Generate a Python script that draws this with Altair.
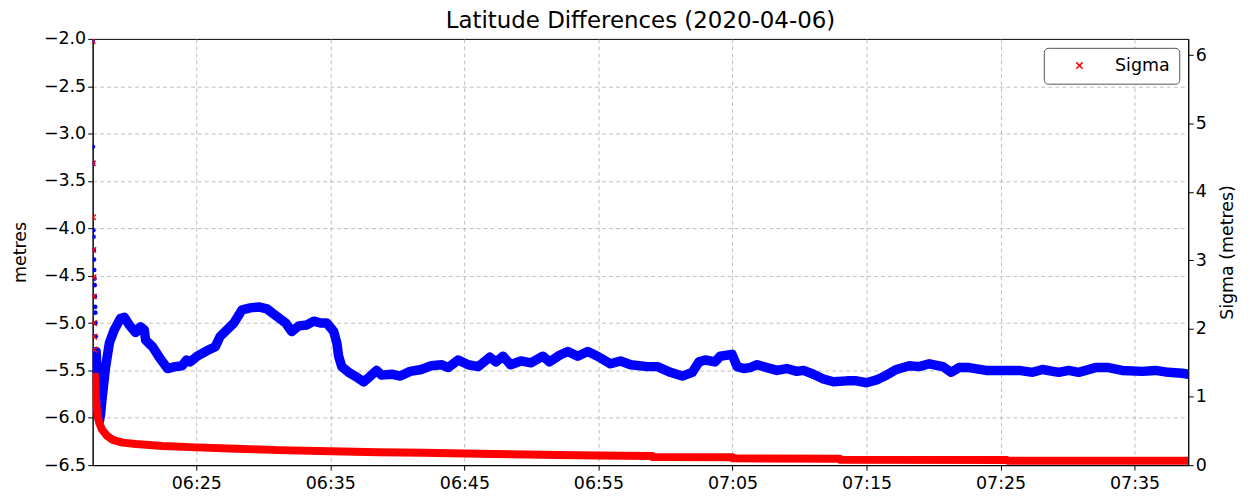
import altair as alt
import pandas as pd

DAY = "2020-04-06T"

# --- Latitude differences (metres), left axis ---
lat_start_times = ["06:17:16", "06:17:17", "06:17:18", "06:17:19", "06:17:20", "06:17:21",
                   "06:17:22", "06:17:23", "06:17:24", "06:17:25", "06:17:26", "06:17:27",
                   "06:17:28", "06:17:29", "06:17:30", "06:17:31"]
lat_start_values = [-2.02, -3.14, -3.31, -4.02, -4.09, -4.23, -4.33, -4.44, -4.53, -4.60,
                    -4.72, -4.83, -4.89, -5.00, -5.14, -5.28]

lat_times = ["06:17:32", "06:17:38", "06:17:43", "06:17:47", "06:17:52", "06:17:58", "06:18:05",
             "06:18:14", "06:18:31", "06:18:53", "06:19:21", "06:19:38", "06:20:00", "06:20:28",
             "06:20:50", "06:21:07", "06:21:13", "06:21:44", "06:22:14", "06:22:51", "06:23:26",
             "06:23:57", "06:24:16", "06:24:33", "06:25:04", "06:25:49", "06:26:25", "06:26:47",
             "06:27:18", "06:27:48", "06:28:25", "06:29:01", "06:29:39", "06:30:16", "06:31:01",
             "06:31:40", "06:32:07", "06:32:39", "06:33:15", "06:33:46", "06:34:16", "06:34:44",
             "06:35:15", "06:35:29", "06:35:37", "06:35:51", "06:36:22", "06:36:58", "06:37:29",
             "06:37:59", "06:38:27", "06:38:49", "06:39:34", "06:40:13", "06:40:57", "06:41:47",
             "06:42:32", "06:43:17", "06:43:48", "06:44:32", "06:45:17", "06:46:02", "06:46:54",
             "06:47:22", "06:47:53", "06:48:27", "06:49:13", "06:49:58", "06:50:51", "06:51:21",
             "06:52:06", "06:52:43", "06:53:27", "06:54:12", "06:54:56", "06:55:54", "06:56:39",
             "06:57:24", "06:58:39", "06:59:24", "07:00:22", "07:01:15", "07:02:00", "07:02:30",
             "07:02:58", "07:03:42", "07:04:05", "07:04:58", "07:05:21", "07:05:50", "07:06:19",
             "07:06:50", "07:07:34", "07:08:19", "07:09:03", "07:09:48", "07:10:18", "07:11:02",
             "07:11:47", "07:12:32", "07:13:31", "07:14:15", "07:15:00", "07:15:45", "07:16:29",
             "07:17:14", "07:18:12", "07:18:56", "07:19:41", "07:20:42", "07:21:19", "07:21:54",
             "07:22:39", "07:23:55", "07:25:09", "07:26:22", "07:27:23", "07:28:08", "07:29:20",
             "07:30:05", "07:30:49", "07:32:05", "07:33:03", "07:34:04", "07:35:33", "07:36:33",
             "07:37:31", "07:38:32", "07:39:00"]
lat_values = [-5.30, -5.70, -5.98, -6.03, -5.95, -5.80, -5.65,
              -5.46, -5.21, -5.07, -4.95, -4.94, -5.02, -5.10,
              -5.04, -5.07, -5.18, -5.25, -5.36, -5.48, -5.46,
              -5.45, -5.39, -5.41, -5.35, -5.29, -5.25, -5.14,
              -5.07, -5.00, -4.86, -4.84, -4.83, -4.85, -4.93,
              -5.00, -5.09, -5.03, -5.02, -4.98, -5.00, -5.00,
              -5.09, -5.21, -5.35, -5.46, -5.52, -5.57, -5.62,
              -5.56, -5.50, -5.55, -5.54, -5.56, -5.51, -5.49,
              -5.45, -5.44, -5.47, -5.39, -5.44, -5.46, -5.36,
              -5.41, -5.35, -5.44, -5.40, -5.42, -5.35, -5.41,
              -5.34, -5.30, -5.35, -5.30, -5.35, -5.43, -5.40,
              -5.44, -5.46, -5.46, -5.52, -5.56, -5.52, -5.41,
              -5.39, -5.41, -5.35, -5.33, -5.46, -5.48, -5.47,
              -5.44, -5.47, -5.50, -5.48, -5.51, -5.50, -5.54,
              -5.59, -5.62, -5.61, -5.61, -5.63, -5.60, -5.55,
              -5.49, -5.45, -5.46, -5.43, -5.46, -5.52, -5.47,
              -5.47, -5.50, -5.50, -5.50, -5.52, -5.49, -5.52,
              -5.50, -5.52, -5.47, -5.47, -5.50, -5.51, -5.50,
              -5.52, -5.53, -5.54]

# --- Sigma (metres), right axis ---
sigma_start_times = ["06:17:16", "06:17:17", "06:17:18", "06:17:19", "06:17:20", "06:17:21",
                     "06:17:22", "06:17:23", "06:17:24"]
sigma_start_values = [6.21, 4.42, 3.63, 3.15, 2.75, 2.47, 2.08, 1.88, 1.69]

sigma_times = ["06:17:25", "06:17:29", "06:17:35", "06:17:45", "06:17:58", "06:18:20", "06:18:46",
               "06:19:30", "06:20:30", "06:22:28", "06:25:00", "06:28:00", "06:31:10", "06:35:00",
               "06:38:36", "06:42:00", "06:45:00", "06:48:30", "06:52:00", "06:55:00", "06:59:00",
               "06:59:01", "07:05:00", "07:05:01", "07:13:00", "07:13:01", "07:25:30", "07:25:31",
               "07:39:00"]
sigma_values = [1.35, 1.05, 0.80, 0.62, 0.52, 0.43, 0.37,
                0.33, 0.31, 0.28, 0.26, 0.24, 0.22, 0.205,
                0.19, 0.18, 0.17, 0.16, 0.15, 0.14, 0.135,
                0.12, 0.115, 0.10, 0.095, 0.08, 0.075, 0.065,
                0.065]

x_tick_hm = [(6, 25), (6, 35), (6, 45), (6, 55), (7, 5), (7, 15), (7, 25), (7, 35)]
x_range_hms = [(6, 17, 16), (7, 39, 0)]
left_ticks = [-6.5, -6.0, -5.5, -5.0, -4.5, -4.0, -3.5, -3.0, -2.5, -2.0]
right_ticks = [0, 1, 2, 3, 4, 5, 6]
left_domain = [-6.5, -2.0]
right_domain = [0, 6.24]

FONT = "DejaVu Sans"
XPATH = "M-1,-1L1,1M-1,1L1,-1"


def ts(t):
    return DAY + t


lat0 = pd.DataFrame({"t": [ts(t) for t in lat_start_times], "v": lat_start_values})
lat = pd.DataFrame({"t": [ts(t) for t in lat_times], "v": lat_values})
sig0 = pd.DataFrame({"t": [ts(t) for t in sigma_start_times], "s": sigma_start_values,
                     "series": ["Sigma"] * len(sigma_start_values)})
sig = pd.DataFrame({"t": [ts(t) for t in sigma_times], "s": sigma_values})


def dt(h, m, s=0):
    return alt.DateTime(year=2020, month=4, date=6, hours=h, minutes=m, seconds=s)


x_enc = alt.X(
    "t:T",
    title=None,
    scale=alt.Scale(domain=[dt(*x_range_hms[0]), dt(*x_range_hms[1])], nice=False),
    axis=alt.Axis(values=[dt(h, m) for h, m in x_tick_hm], format="%H:%M", grid=True,
                  labelPadding=4),
)

left_axis = alt.Axis(
    values=left_ticks, grid=True, title="metres", titlePadding=14,
    gridOpacity={"condition": {"test": "datum.value <= -6.5 || datum.value >= -2.0", "value": 0},
                 "value": 1},
    labelExpr="replace(format(datum.value, '.1f'), '-', '\u2212')",
)
right_axis = alt.Axis(
    values=right_ticks, grid=False, orient="right", format="d",
    title="Sigma (metres)", titlePadding=12, titleAngle=270, titleBaseline="top",
)
left_scale = alt.Scale(domain=left_domain, nice=False, zero=False)
right_scale = alt.Scale(domain=right_domain, nice=False, zero=False)

blue_line = alt.Chart(lat).mark_line(
    color="#0000ff", strokeWidth=9.5, strokeCap="round", strokeJoin="round", clip=True
).encode(x=x_enc, y=alt.Y("v:Q", scale=left_scale, axis=left_axis))

blue_pts = alt.Chart(lat0).mark_point(
    color="#0000ff", filled=True, size=22, opacity=1, clip=True
).encode(x=x_enc, y=alt.Y("v:Q", scale=left_scale, axis=left_axis))

red_line = alt.Chart(sig).mark_line(
    color="#ff0000", strokeWidth=8, strokeCap="butt", strokeJoin="round", clip=True
).encode(x=x_enc, y=alt.Y("s:Q", scale=right_scale, axis=right_axis))

red_pts = alt.Chart(sig0).mark_point(
    shape=XPATH, filled=False, strokeWidth=1.5, size=30, opacity=1, clip=True
).encode(
    x=x_enc,
    y=alt.Y("s:Q", scale=right_scale, axis=right_axis),
    color=alt.Color(
        "series:N",
        scale=alt.Scale(domain=["Sigma"], range=["#ff0000"]),
        legend=alt.Legend(
            title=None, orient="top-right", offset=9, padding=9,
            strokeColor="#555555", fillColor="white", cornerRadius=4,
            symbolType=XPATH, symbolSize=40, symbolStrokeWidth=1.5,
            symbolOffset=18, labelOffset=27, labelFontSize=17.5, labelFont=FONT,
            labelColor="black",
        ),
    ),
)

left = alt.layer(blue_line, blue_pts)
right = alt.layer(red_line, red_pts)

chart = (
    alt.layer(left, right)
    .resolve_scale(y="independent")
    .properties(
        width=1100, height=428,
        title=alt.TitleParams("Latitude Differences (2020-04-06)", font=FONT, fontSize=23,
                              fontWeight="normal", color="black", offset=-3, anchor="middle"),
        autosize=alt.AutoSizeParams(type="none"),
        padding={"left": 85, "top": 30, "right": 56, "bottom": 38},
    )
    .configure_view(stroke="black", strokeWidth=1)
    .configure_axis(
        labelFont=FONT, labelFontSize=17.5, labelColor="black",
        titleFont=FONT, titleFontSize=17.5, titleFontWeight="normal", titleColor="black",
        domainColor="black", domainWidth=1, tickColor="black", tickSize=5, tickWidth=1,
        gridColor="#b0b0b0", gridDash=[4, 3], gridWidth=0.8,
    )
    .configure_legend(symbolFillColor="transparent")
)

chart.save("out.html", embed_options={"renderer": "svg", "actions": False})
